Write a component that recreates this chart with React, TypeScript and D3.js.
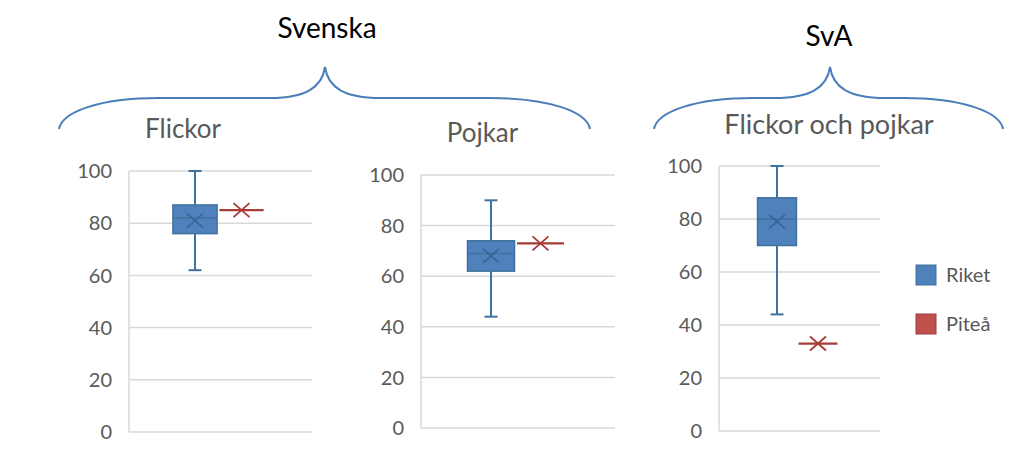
import React from "react";
import * as d3 from "d3";

const groupLabels = ["Svenska", "SvA"];
const panelTitles = ["Flickor", "Pojkar", "Flickor och pojkar"];
const seriesNames = ["Riket", "Piteå"];
const yTicks = [0, 20, 40, 60, 80, 100];
const riketMin = [62, 44, 44];
const riketQ1 = [76, 62, 70];
const riketMedian = [82, 69, 80];
const riketQ3 = [87, 74, 88];
const riketMax = [100, 90, 100];
const riketMean = [81, 68, 79];
const piteaValue = [85, 73, 33];

const layouts = [
  { axisX: 129, gridEnd: 312, yTop: 171, yBottom: 432, c1: 195, step: 46.5, titleX: 183, titleY: 138, titleSize: 26 },
  { axisX: 421, gridEnd: 615, yTop: 175, yBottom: 428, c1: 491, step: 49.5, titleX: 482.5, titleY: 142, titleSize: 26 },
  { axisX: 719, gridEnd: 880, yTop: 166, yBottom: 431, c1: 777, step: 41, titleX: 829, titleY: 134, titleSize: 27 },
];

const braces = [
  { x0: 59, xm: 325, x1: 590, labelX: 327, labelY: 38 },
  { x0: 654, xm: 830, x1: 1003, labelX: 829, labelY: 46 },
];

const FONT = "Lato, 'Open Sans', sans-serif";
const BLUE = "#4f81bd";
const BLUE_DARK = "#41719c";
const RED = "#c0504d";
const RED_LINE = "#a83a38";
const GRID = "#d9d9d9";
const TEXT = "#595959";

function bracePath(x0: number, xm: number, x1: number) {
  const yEnd = 129, yFlat = 98, yTip = 67;
  const endLen = 100, tipLen = 55;
  const p = d3.path();
  p.moveTo(x0, yEnd);
  p.bezierCurveTo(x0 + 3, yFlat + 14, x0 + 40, yFlat, x0 + endLen, yFlat);
  p.lineTo(xm - tipLen, yFlat);
  p.bezierCurveTo(xm - tipLen + 35, yFlat, xm - 3, yFlat - 10, xm, yTip);
  p.bezierCurveTo(xm + 3, yFlat - 10, xm + tipLen - 35, yFlat, xm + tipLen, yFlat);
  p.lineTo(x1 - endLen, yFlat);
  p.bezierCurveTo(x1 - 40, yFlat, x1 - 3, yFlat + 14, x1, yEnd);
  return p.toString();
}

function Panel({ i }: { i: number }) {
  const L = layouts[i];
  const y = d3.scaleLinear().domain([0, 100]).range([L.yBottom, L.yTop]);
  const x = d3
    .scaleBand<string>()
    .domain(seriesNames)
    .range([L.c1 - L.step / 2, L.c1 + L.step * 1.5])
    .paddingInner(0)
    .paddingOuter(0);
  const bw = x.bandwidth();
  const boxW = bw * 0.95;
  const cx = (x("Riket") as number) + bw / 2;
  const rx = (x("Piteå") as number) + bw / 2;
  const capW = 13;
  const xs = 8, ys = 7;
  const py = y(piteaValue[i]);
  const my = y(riketMean[i]);
  return (
    <g>
      <text x={L.titleX} y={L.titleY} textAnchor="middle" fontSize={L.titleSize} fill={TEXT} fontFamily={FONT}>
        {panelTitles[i]}
      </text>
      {yTicks.map((t) => (
        <g key={t}>
          <line x1={L.axisX} x2={L.gridEnd} y1={y(t)} y2={y(t)} stroke={GRID} strokeWidth={1.5} />
          <text x={L.axisX - 17} y={y(t)} dy="0.36em" textAnchor="end" fontSize={20} fill={TEXT} fontFamily={FONT}>
            {t}
          </text>
        </g>
      ))}
      <line x1={L.axisX} x2={L.axisX} y1={y(100)} y2={y(0)} stroke={GRID} strokeWidth={1.5} />
      <line x1={cx} x2={cx} y1={y(riketMax[i])} y2={y(riketQ3[i])} stroke={BLUE_DARK} strokeWidth={2} />
      <line x1={cx} x2={cx} y1={y(riketQ1[i])} y2={y(riketMin[i])} stroke={BLUE_DARK} strokeWidth={2} />
      <line x1={cx - capW / 2} x2={cx + capW / 2} y1={y(riketMax[i])} y2={y(riketMax[i])} stroke={BLUE_DARK} strokeWidth={2} />
      <line x1={cx - capW / 2} x2={cx + capW / 2} y1={y(riketMin[i])} y2={y(riketMin[i])} stroke={BLUE_DARK} strokeWidth={2} />
      <rect
        x={cx - boxW / 2}
        y={y(riketQ3[i])}
        width={boxW}
        height={y(riketQ1[i]) - y(riketQ3[i])}
        fill={BLUE}
        stroke={BLUE_DARK}
        strokeWidth={1.5}
      />
      <line x1={cx - boxW / 2} x2={cx + boxW / 2} y1={y(riketMedian[i])} y2={y(riketMedian[i])} stroke={BLUE_DARK} strokeWidth={1.5} />
      <path
        d={`M${cx - xs},${my - ys}L${cx + xs},${my + ys}M${cx - xs},${my + ys}L${cx + xs},${my - ys}`}
        stroke="#3a6496"
        strokeWidth={1.6}
        fill="none"
      />
      <line x1={rx - boxW / 2} x2={rx + boxW / 2} y1={py} y2={py} stroke={RED_LINE} strokeWidth={2.2} />
      <path
        d={`M${rx - xs},${py - ys}L${rx + xs},${py + ys}M${rx - xs},${py + ys}L${rx + xs},${py - ys}`}
        stroke={RED_LINE}
        strokeWidth={1.8}
        fill="none"
      />
    </g>
  );
}

export default function App() {
  const legendColors = [
    { fill: BLUE, stroke: BLUE_DARK },
    { fill: RED, stroke: "#9c3d3a" },
  ];
  return (
    <svg
      width={1011}
      height={450}
      style={{ position: "absolute", left: 0, top: 0, background: "#fff" }}
      fontFamily={FONT}
    >
      <rect x={0} y={0} width={1011} height={450} fill="#fff" />
      {braces.map((b, i) => (
        <g key={i}>
          <path d={bracePath(b.x0, b.xm, b.x1)} fill="none" stroke="#4a7ebb" strokeWidth={2} />
          <text x={b.labelX} y={b.labelY} textAnchor="middle" fontSize={28} fill="#000" fontFamily={FONT}>
            {groupLabels[i]}
          </text>
        </g>
      ))}
      {layouts.map((_, i) => (
        <Panel key={i} i={i} />
      ))}
      {seriesNames.map((s, i) => (
        <g key={s} transform={`translate(916, ${265 + i * 49})`}>
          <rect x={0} y={0} width={20} height={20} fill={legendColors[i].fill} stroke={legendColors[i].stroke} strokeWidth={1} />
          <text x={30} y={10} dy="0.36em" fontSize={20} fill={TEXT} fontFamily={FONT}>
            {s}
          </text>
        </g>
      ))}
    </svg>
  );
}
